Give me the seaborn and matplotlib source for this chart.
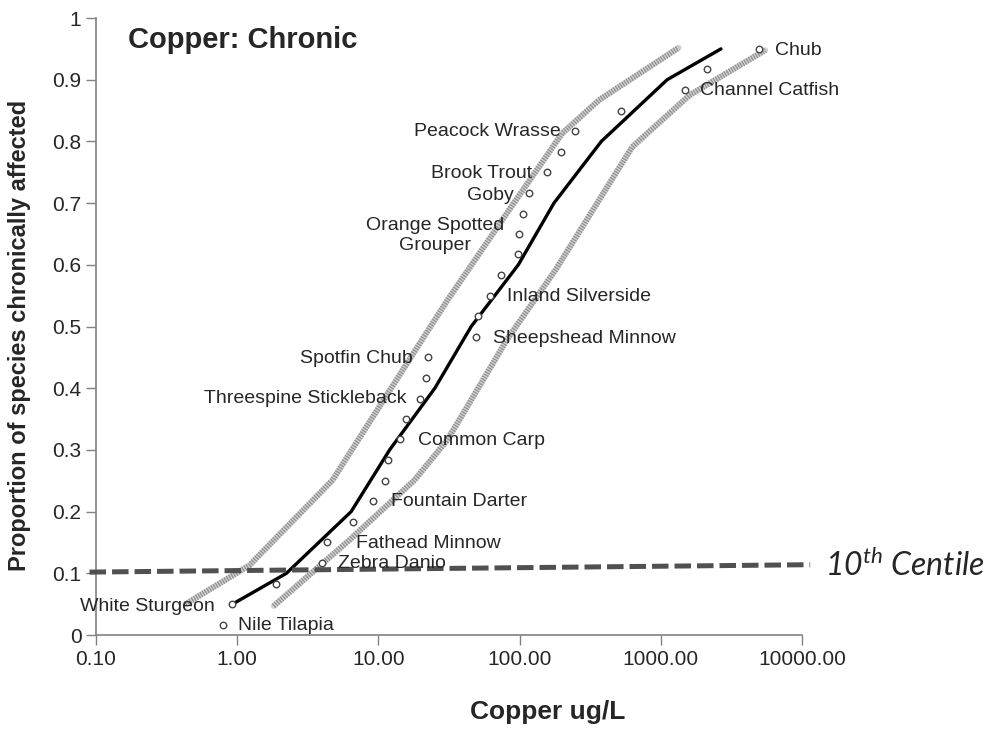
"""
Copper chronic species sensitivity distribution
"""

import matplotlib
matplotlib.use("Agg")
import matplotlib.pyplot as plt
import seaborn as sns
import pandas as pd

# pontos das espécies (Cu ug/L vs proporção afetada)
species_conc = [0.79, 0.925, 1.89, 3.97, 4.36, 6.62, 9.22, 11.1, 11.7, 14.2,
                15.8, 19.7, 21.7, 22.5, 49.5, 50.4, 61.9, 73.7, 98.2, 99.8,
                105, 117, 156, 196, 247, 519, 1479, 2113, 4929]
species_prop = [0.017, 0.05, 0.083, 0.117, 0.15, 0.183, 0.217, 0.25, 0.283, 0.317,
                0.35, 0.383, 0.417, 0.45, 0.483, 0.517, 0.55, 0.583, 0.617, 0.65,
                0.683, 0.717, 0.75, 0.783, 0.817, 0.85, 0.883, 0.917, 0.95]

# curva ajustada
fit_conc = [0.925, 2.23, 6.41, 12.0, 25.1, 45.4, 97.9, 175, 379, 1109, 2667]
fit_prop = [0.05, 0.1, 0.2, 0.3, 0.4, 0.5, 0.6, 0.7, 0.8, 0.9, 0.95]

# limites de confiança
upper_conc = [0.43, 1.22, 4.73, 22.5, 30.9, 84.3, 200, 365, 1340]
upper_prop = [0.05, 0.113, 0.251, 0.494, 0.543, 0.689, 0.813, 0.867, 0.952]
lower_conc = [1.81, 6.24, 18.0, 30.5, 37.3, 82, 180, 627, 1600, 5500]
lower_prop = [0.047, 0.154, 0.251, 0.315, 0.348, 0.48, 0.592, 0.791, 0.875, 0.948]

# linha do 10o percentil
centile_conc = [0.09, 11430]
centile_prop = [0.102, 0.114]

label_names = ["Chub", "Channel Catfish", "Peacock Wrasse", "Brook Trout", "Goby",
               "Orange Spotted\nGrouper", "Inland Silverside", "Sheepshead Minnow",
               "Spotfin Chub", "Threespine Stickleback", "Common Carp",
               "Fountain Darter", "Fathead Minnow", "Zebra Danio",
               "White Sturgeon", "Nile Tilapia"]
label_x = [6397, 1909, 196, 123, 91.4, 25.3, 82, 65.3, 17.5, 15.7, 18.95,
           12.3, 6.95, 5.16, 0.693, 1.01]
label_y = [0.948, 0.883, 0.816, 0.748, 0.713, 0.648, 0.548, 0.481, 0.448, 0.384,
           0.315, 0.216, 0.149, 0.116, 0.047, 0.016]
label_ha = ["left", "left", "right", "right", "right", "center", "left", "left",
            "right", "right", "left", "left", "left", "left", "right", "left"]

x_ticks = [0.1, 1, 10, 100, 1000, 10000]
x_ticklabels = ["0.10", "1.00", "10.00", "100.00", "1000.00", "10000.00"]
y_ticks = [0, 0.1, 0.2, 0.3, 0.4, 0.5, 0.6, 0.7, 0.8, 0.9, 1.0]
y_ticklabels = ["0", "0.1", "0.2", "0.3", "0.4", "0.5", "0.6", "0.7", "0.8", "0.9", "1"]

sns.set_style("white")
plt.rcParams['font.family'] = ['Liberation Sans', 'DejaVu Sans']
plt.rcParams['mathtext.fontset'] = 'custom'
plt.rcParams['mathtext.it'] = 'Lato:italic'
plt.rcParams['mathtext.rm'] = 'Lato:italic'

fig = plt.figure(figsize=(9.97, 7.30), dpi=100)
ax = fig.add_axes([0.0963, 0.1301, 0.7081, 0.8452])

# faixas de confiança com textura pontilhada
for cx, cy in [(upper_conc, upper_prop), (lower_conc, lower_prop)]:
    sns.lineplot(x=cx, y=cy, ax=ax, color="#d4d4d4", lw=4.2,
                 estimator=None, sort=False)
    ax.plot(cx, cy, color="#8f8f8f", lw=4.2, dashes=(0.22, 0.22))

sns.lineplot(x=fit_conc, y=fit_prop, ax=ax, color="black", lw=2.4,
             estimator=None, sort=False, zorder=4)

df = pd.DataFrame({"conc": species_conc, "prop": species_prop})
sns.scatterplot(data=df, x="conc", y="prop", ax=ax, marker="o", s=22,
                facecolor="white", edgecolor="#444444", linewidth=1.0, zorder=5)

ax.plot(centile_conc, centile_prop, color="#505050", lw=3.6, dashes=(3.3, 1.2),
        clip_on=False, zorder=6)
ax.text(14500, 0.112, r"10$^{th}$ Centile", fontsize=23, fontstyle="italic",
        family="Lato", ha="left", va="center")

for name, x, y, ha in zip(label_names, label_x, label_y, label_ha):
    ax.text(x, y, name, fontsize=14, ha=ha, va="center", multialignment="center",
            zorder=7)

ax.set_xscale("log")
ax.set_xlim(0.1, 10000)
ax.set_ylim(0, 1)
ax.set_xticks(x_ticks)
ax.set_xticklabels(x_ticklabels, fontsize=15)
ax.set_yticks(y_ticks)
ax.set_yticklabels(y_ticklabels, fontsize=15)
ax.minorticks_off()
ax.tick_params(axis="both", direction="out", length=7, width=1, color="#808080",
               left=True, bottom=True)

sns.despine(ax=ax)
for side in ["left", "bottom"]:
    ax.spines[side].set_color("#808080")
    ax.spines[side].set_linewidth(1.2)

ax.set_xlabel("Copper ug/L", fontsize=19, fontweight="bold", va="center")
ax.xaxis.set_label_coords(0.64, -0.125)
ax.set_ylabel("Proportion of species chronically affected", fontsize=17,
              fontweight="bold")
ax.yaxis.set_label_coords(-0.092, 0.485)

ax.text(0.045, 0.965, "Copper: Chronic", transform=ax.transAxes, fontsize=21,
        fontweight="bold", ha="left", va="center")

if ax.get_legend():
    ax.get_legend().remove()

fig.savefig("out.png", dpi=100)
